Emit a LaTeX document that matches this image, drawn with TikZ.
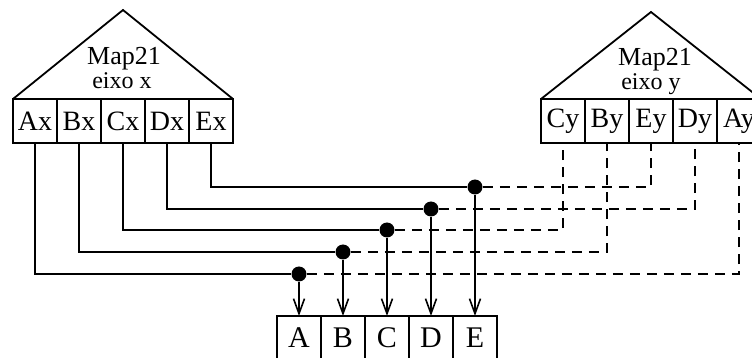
\documentclass[tikz,border=0pt]{standalone}
\usepackage{fontspec}
\setmainfont{Liberation Serif}
\usetikzlibrary{arrows.meta}
\usetikzlibrary{positioning}

\begin{document}
\begin{tikzpicture}[x=0.5pt, y=-0.5pt,
  % células dos vetores de entrada e de saída
  cell/.style={rectangle, draw=black, line width=0.9pt, minimum width=22pt, minimum height=22pt, inner sep=0pt, outer sep=0pt, font=\fontsize{14}{16}\selectfont},
  outcell/.style={cell, font=\fontsize{15}{17}\selectfont},
  % textos dentro dos triângulos
  title/.style={inner sep=0pt, anchor=base, font=\fontsize{13}{15}\selectfont},
  subtitle/.style={inner sep=0pt, anchor=base, font=\fontsize{12}{14}\selectfont},
  % ligações
  dot/.style={circle, fill=black, minimum size=7.5pt, inner sep=0pt},
  wire/.style={line width=1pt},
  link/.style={line width=1pt, dash pattern=on 5pt off 3.5pt},
  feed/.style={line width=0.8pt, -{Straight Barb[length=7.5pt, width=5.5pt]}}
]
\useasboundingbox (0,0) rectangle (752,358);

% mapa do eixo x
\node[cell] (Ax) at (35,121)  {Ax};
\node[cell] (Bx) at (79,121)  {Bx};
\node[cell] (Cx) at (123,121) {Cx};
\node[cell] (Dx) at (167,121) {Dx};
\node[cell] (Ex) at (211,121) {Ex};
\draw[line width=0.9pt] (Ax.north west) -- (123,10) -- (Ex.north east);
\node[title]    (mapX) at (124,65) {Map21};
\node[subtitle] (eixoX) at (122,89) {eixo x};

% mapa do eixo y
\node[cell] (Cy) at (563,121) {Cy};
\node[cell] (By) at (607,121) {By};
\node[cell] (Ey) at (651,121) {Ey};
\node[cell] (Dy) at (695,121) {Dy};
\node[cell] (Ay) at (739,121) {Ay};
\draw[line width=0.9pt] (Cy.north west) -- (651,12) -- (Ay.north east);
\node[title]    (mapY) at (655,66) {Map21};
\node[subtitle] (eixoY) at (651,90) {eixo y};

% vetor de saída
\node[outcell] (A) at (299,338) {A};
\node[outcell] (B) at (343,338) {B};
\node[outcell] (C) at (387,338) {C};
\node[outcell] (D) at (431,338) {D};
\node[outcell] (E) at (475,338) {E};

% pontos de junção
\node[dot] (dA) at (299,274) {};
\node[dot] (dB) at (343,252) {};
\node[dot] (dC) at (387,230) {};
\node[dot] (dD) at (431,209) {};
\node[dot] (dE) at (475,187) {};

% linhas cheias vindas do eixo x
\draw[wire] (Ax.south) |- (dA);
\draw[wire] (Bx.south) |- (dB);
\draw[wire] (Cx.south) |- (dC);
\draw[wire] (Dx.south) |- (dD);
\draw[wire] (Ex.south) |- (dE);

% linhas tracejadas vindas do eixo y
\draw[link] (dA) -| (Ay.south);
\draw[link] (dB) -| (By.south);
\draw[link] (dC) -| (Cy.south);
\draw[link] (dD) -| (Dy.south);
\draw[link] (dE) -| (Ey.south);

% setas para o vetor de saída
\draw[feed] (dA) -- (A.north);
\draw[feed] (dB) -- (B.north);
\draw[feed] (dC) -- (C.north);
\draw[feed] (dD) -- (D.north);
\draw[feed] (dE) -- (E.north);

\end{tikzpicture}
\end{document}
